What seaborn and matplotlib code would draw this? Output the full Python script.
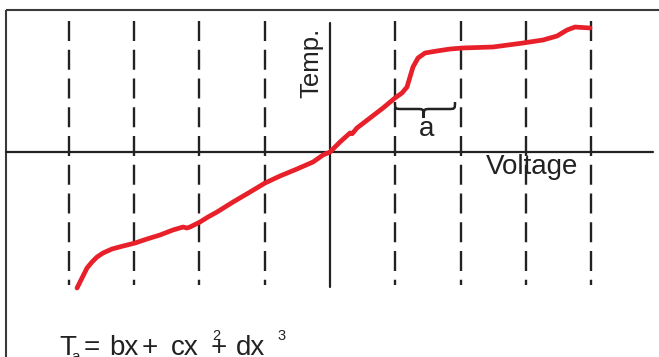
import numpy as np
import pandas as pd
import matplotlib
matplotlib.use("Agg")
import matplotlib.pyplot as plt
from matplotlib.path import Path
from matplotlib.patches import PathPatch
import seaborn as sns

# curve, in grid units (one dashed column = 1 volt step)
voltage = [-3.874, -3.798, -3.721, -3.645, -3.568, -3.476, -3.338, -3.170, -2.986,
           -2.802, -2.603, -2.404, -2.251, -2.190, -2.144, -1.991, -1.868, -1.730,
           -1.485, -1.225, -0.995, -0.766, -0.505, -0.260, -0.107, 0.000,
           0.153, 0.306, 0.340, 0.413, 0.613, 0.812, 0.995, 1.103, 1.179, 1.225,
           1.271, 1.348, 1.455, 1.639, 1.838, 2.037, 2.496, 2.956, 3.262, 3.476,
           3.630, 3.752, 3.982]
temp = [-2.083, -1.930, -1.776, -1.685, -1.608, -1.547, -1.485, -1.440, -1.394,
        -1.332, -1.271, -1.194, -1.149, -1.164, -1.149, -1.072, -0.995, -0.919,
        -0.766, -0.613, -0.475, -0.368, -0.260, -0.153, -0.046, 0.000,
        0.153, 0.291, 0.280, 0.368, 0.521, 0.674, 0.827, 0.904, 0.995, 1.149,
        1.302, 1.440, 1.516, 1.547, 1.577, 1.593, 1.608, 1.669, 1.715, 1.776,
        1.868, 1.914, 1.899]

grid_x = [-4, -3, -2, -1, 1, 2, 3, 4]
brace_span = (0.995, 1.914)

x_label = "Voltage"
y_label = "Temp."
brace_label = "a"

PX = 65.3  # pixels per grid unit
RED = "#e8202a"
INK = "#222222"

sns.set_theme(style="white")
plt.rcParams['font.family'] = ['Liberation Sans', 'DejaVu Sans']
plt.rcParams['lines.scale_dashes'] = False


def fx(px):
    return px / 659.0


def fy(py):
    return 1 - py / 357.0


fig = plt.figure(figsize=(6.59, 3.57), dpi=100)
ax = fig.add_axes([0, 0, 1, 1])
ax.set_xlim(-330 / PX, 329 / PX)
ax.set_ylim(-205 / PX, 152 / PX)
ax.axis('off')

# outer box (only top and left edges visible in the crop)
left, top = -324 / PX, 142 / PX
ax.plot([left, 5.2], [top, top], color="#3a3a3a", lw=1.5, solid_capstyle='butt')
ax.plot([left, left], [top, -3.3], color="#3a3a3a", lw=1.5, solid_capstyle='butt')

# dashed grid columns
for gx in grid_x:
    ax.plot([gx, gx], [131 / PX, -133 / PX], color=INK, lw=1.7,
            linestyle=(0, (14.4, 6.3)), solid_capstyle='butt')

# axes
ax.plot([left, 323 / PX], [0, 0], color=INK, lw=1.6)
ax.plot([0, 0], [129 / PX, -135 / PX], color=INK, lw=1.6)

# red transfer curve
df = pd.DataFrame({"voltage": voltage, "temp": temp})
sns.lineplot(data=df, x="voltage", y="temp", sort=False, estimator=None,
             color=RED, lw=3.4, ax=ax)
ax.lines[-1].set_solid_capstyle('round')
ax.lines[-1].set_solid_joinstyle('round')

# curly brace under the step
x0, x1 = brace_span
xm = (x0 + x1) / 2 - 0.02
ytop, ymid, ytip = 50 / PX, 43 / PX, 34 / PX
r = 7 / PX
verts = [(x0, ytop), (x0, ymid), (x0, ymid), (x0 + r, ymid),
         (xm - r, ymid),
         (xm, ymid), (xm, ymid), (xm, ytip),
         (xm, ymid), (xm, ymid), (xm + r, ymid),
         (x1 - r, ymid),
         (x1, ymid), (x1, ymid), (x1, ytop)]
codes = [Path.MOVETO, Path.CURVE4, Path.CURVE4, Path.CURVE4,
         Path.LINETO,
         Path.CURVE4, Path.CURVE4, Path.CURVE4,
         Path.CURVE4, Path.CURVE4, Path.CURVE4,
         Path.LINETO,
         Path.CURVE4, Path.CURVE4, Path.CURVE4]
ax.add_patch(PathPatch(Path(verts, codes), fill=False, edgecolor=INK, lw=1.8))

# labels
fs = 20
ax.text(fx(427), fy(136), brace_label, transform=ax.transAxes, fontsize=fs,
        ha='center', va='baseline', color=INK)
ax.text(fx(486), fy(174), x_label, transform=ax.transAxes, fontsize=fs,
        ha='left', va='baseline', color=INK)
ax.text(fx(318), fy(98), y_label, transform=ax.transAxes, fontsize=18.5,
        rotation=90, rotation_mode='anchor', ha='left', va='baseline', color=INK)

# formula along the bottom edge
formula = [("T", 59, 355, fs), ("a", 71, 361, 11), ("=", 84, 355, fs),
           ("bx", 109, 355, fs), ("+", 142, 355, fs), ("cx", 171, 355, fs),
           ("2", 212, 340, 10.5), ("+", 211, 355, fs), ("dx", 236, 355, fs),
           ("3", 277, 340, 10.5)]
for s, px, py, size in formula:
    ax.text(fx(px), fy(py), s, transform=ax.transAxes, fontsize=size,
            ha='left', va='baseline', color=INK)

fig.savefig("out.png", dpi=100)
